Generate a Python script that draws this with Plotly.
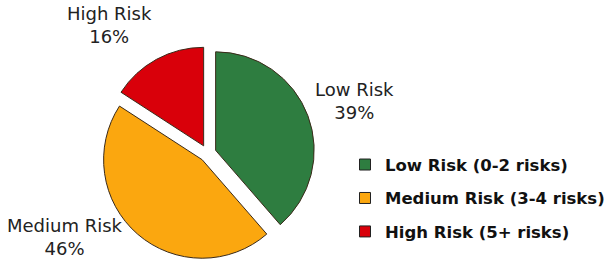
import plotly.graph_objects as go

# ---- data ----
slice_names = ["Low Risk", "Medium Risk", "High Risk"]
legend_labels = ["Low Risk (0-2 risks)", "Medium Risk (3-4 risks)", "High Risk (5+ risks)"]
values = [39, 46, 16]
colors = ["#2E7D40", "#FBA70F", "#D9000A"]

W, H = 613, 262
total = sum(values)
pcts = [f"{round(v / total * 100)}%" for v in values]

fig = go.Figure()

fig.add_trace(go.Pie(
    labels=slice_names,
    values=values,
    sort=False,
    direction="clockwise",
    rotation=0,
    pull=[0.086] * len(values),
    marker=dict(colors=colors, line=dict(color="#3a2a1a", width=1)),
    textinfo="none",
    hoverinfo="label+percent",
    showlegend=False,
    domain=dict(x=[100.7 / W, 314.7 / W], y=[1.7 / H, 215.7 / H]),
))

# legend entries (one group each so the rows can be spaced)
for name, col in zip(legend_labels, colors):
    fig.add_trace(go.Scatter(
        x=[None], y=[None], mode="markers", name=name,
        legendgroup=name,
        marker=dict(symbol="square", size=11, color=col,
                    line=dict(color="#222222", width=1)),
        hoverinfo="skip",
    ))

# slice labels (positions in pixels -> paper)
label_pos = {"Low Risk": (354, 100.5), "Medium Risk": (64.5, 237), "High Risk": (109.5, 25.5)}
annotations = []
for name, pct in zip(slice_names, pcts):
    px, py = label_pos[name]
    annotations.append(dict(
        x=px / W, y=1 - py / H, xref="paper", yref="paper",
        text=f"{name}<br>{pct}", showarrow=False,
        xanchor="center", yanchor="middle", align="center",
        font=dict(family="DejaVu Sans", size=18, color="#222222"),
    ))

fig.update_layout(
    width=W, height=H,
    margin=dict(l=0, r=0, t=0, b=0),
    paper_bgcolor="white", plot_bgcolor="white",
    xaxis=dict(visible=False), yaxis=dict(visible=False),
    dragmode=False,
    showlegend=True,
    legend=dict(
        x=345 / W, y=1 - 147.3 / H, xanchor="left", yanchor="top",
        bgcolor="rgba(0,0,0,0)", borderwidth=0,
        tracegroupgap=9,
        font=dict(family="DejaVu Sans", size=16.5, color="#111111", weight="bold"),
    ),
    annotations=annotations,
)

fig.write_html(
    "out.html",
    config={"displayModeBar": False},
    post_script="document.body.style.margin='0';document.body.style.overflow='hidden';",
)
